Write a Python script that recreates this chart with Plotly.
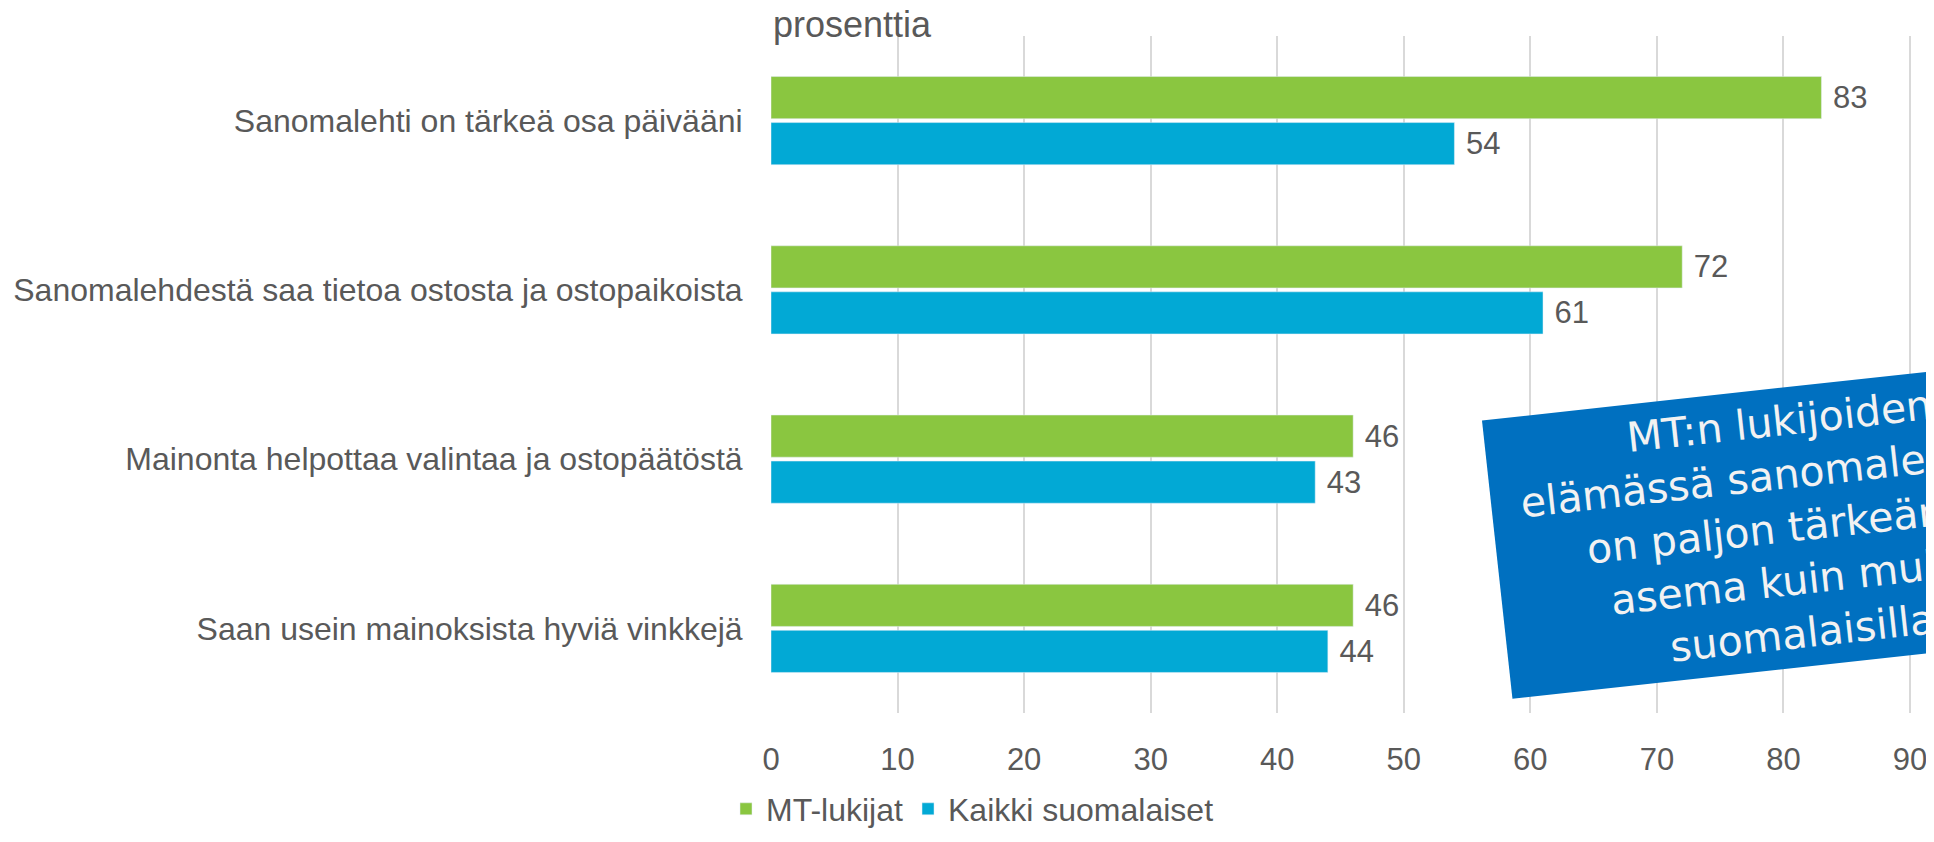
import plotly.graph_objects as go

# data
categories = [
    "Sanomalehti on tärkeä osa päivääni",
    "Sanomalehdestä saa tietoa ostosta ja ostopaikoista",
    "Mainonta helpottaa valintaa ja ostopäätöstä",
    "Saan usein mainoksista hyviä vinkkejä",
]
mt_lukijat = [83, 72, 46, 46]
kaikki = [54, 61, 43, 44]
x_ticks = [0, 10, 20, 30, 40, 50, 60, 70, 80, 90]

GREEN = "#8AC640"
BLUE = "#02A9D5"
GREY = "#595959"
FONT = "Liberation Sans, Arial, sans-serif"

# the html body has an 8px margin, so the figure is made that much smaller
OFF = 8
W, H = 1934 - OFF, 842 - OFF
# plot area in page pixels: x 771..1929, y 36..727
L, R, T, B = 771 - OFF, 1934 - 1929, 36 - OFF, 842 - 727


def px_to_paper(px, py):
    # convert page pixels to paper coords of the plot area
    fx, fy = px - OFF, py - OFF
    return (fx - L) / (W - L - R), (H - B - fy) / (H - T - B)


fig = go.Figure()

fig.add_trace(go.Bar(
    y=categories, x=mt_lukijat, orientation="h", name="MT-lukijat",
    marker=dict(color=GREEN), text=mt_lukijat, texttemplate="&nbsp;%{x}",
    textposition="outside", textfont=dict(size=31, color=GREY, family=FONT),
    cliponaxis=False,
))
fig.add_trace(go.Bar(
    y=categories, x=kaikki, orientation="h", name="Kaikki suomalaiset",
    marker=dict(color=BLUE), text=kaikki, texttemplate="&nbsp;%{x}",
    textposition="outside", textfont=dict(size=31, color=GREY, family=FONT),
    cliponaxis=False,
))

# axis unit label above the plot
ux, uy = px_to_paper(771, 24)
fig.add_annotation(
    text="prosenttia", xref="paper", yref="paper", x=ux, y=uy,
    xanchor="left", yanchor="middle", showarrow=False,
    font=dict(size=36, color=GREY, family=FONT),
)

# the tilted blue text box
bx, by = px_to_paper(1791, 538)
fig.add_annotation(
    text="MT:n lukijoiden<br>elämässä sanomalehdellä<br>on paljon tärkeämpi<br>asema kuin muilla<br>suomalaisilla",
    xref="paper", yref="paper", x=bx, y=by, xanchor="center", yanchor="middle",
    showarrow=False, textangle=-6.25, align="center",
    width=582, height=271, borderpad=4, bgcolor="#0070C0",
    font=dict(size=41, color="#F2F2F2", family="DejaVu Sans, Verdana, sans-serif"),
)

lx, ly = px_to_paper(726, 825)

fig.update_layout(
    width=W, height=H,
    margin=dict(l=L, r=R, t=T, b=B, pad=0),
    paper_bgcolor="white", plot_bgcolor="white",
    barmode="group", bargap=0.456, bargroupgap=0.085,
    font=dict(family=FONT, color=GREY),
    xaxis=dict(
        range=[0, 91.5], tickvals=x_ticks, showgrid=True, gridcolor="#D9D9D9",
        gridwidth=2, zeroline=False, showline=False, automargin=False,
        tickfont=dict(size=31, color=GREY), ticks="outside", ticklen=19,
        tickcolor="rgba(0,0,0,0)",
    ),
    yaxis=dict(
        autorange="reversed", showgrid=False, zeroline=False, showline=False,
        automargin=False, tickfont=dict(size=32, color=GREY), ticks="outside",
        ticklen=21, tickcolor="rgba(0,0,0,0)",
    ),
    legend=dict(
        orientation="h", x=lx, xanchor="left", y=ly, yanchor="middle",
        font=dict(size=32, color=GREY), bgcolor="rgba(0,0,0,0)",
    ),
    showlegend=True,
)

fig.write_html("out.html")
